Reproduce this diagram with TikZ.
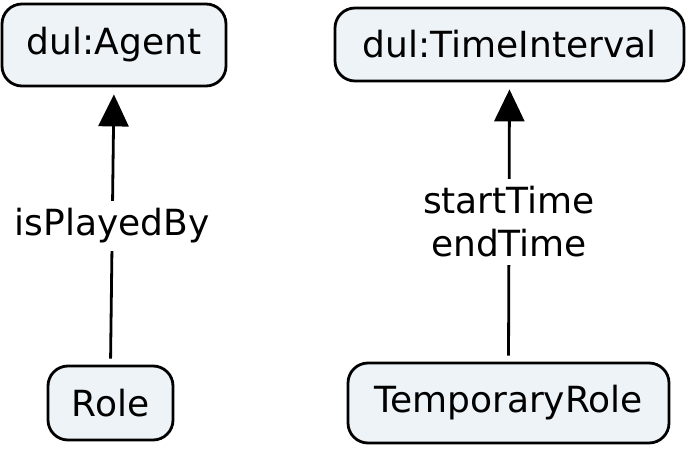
\documentclass[tikz,border=0pt]{standalone}
\usepackage{fontspec}
\setmainfont{DejaVu Sans}
\usetikzlibrary{arrows.meta,calc,positioning}
\definecolor{boxfill}{HTML}{EDF3F6}

\begin{document}
\begin{tikzpicture}[x=1pt,y=1pt,
    cls/.style={draw,line width=2.8pt,rounded corners=20pt,fill=boxfill,
      font=\fontsize{36}{42}\selectfont},
    rel/.style={line width=2.8pt,-{Triangle[length=32pt,width=30pt]},
      shorten <=6pt,shorten >=7pt},
    lbl/.style={fill=white,align=center,inner sep=8pt,
      font=\fontsize{36}{43}\selectfont}]
  \useasboundingbox (0,0) rectangle (692,452);

  \node[cls,minimum width=224,minimum height=82] (agent)
    at (114,407) {dul:Agent};

  \node[cls,minimum width=349,minimum height=73] (interval)
    at (509.5,407.5) {dul:TimeInterval};

  \node[cls,minimum width=125,minimum height=74] (role)
    at (110.5,49) {Role};

  \node[cls,minimum width=321,minimum height=80] (temprole)
    at (508.5,49) {TemporaryRole};

  \draw[rel] (role.north) -- node[lbl] {isPlayedBy} (agent.south);
  \draw[rel] (temprole.north) -- node[lbl] {startTime\\endTime} (interval.south);
\end{tikzpicture}
\end{document}
